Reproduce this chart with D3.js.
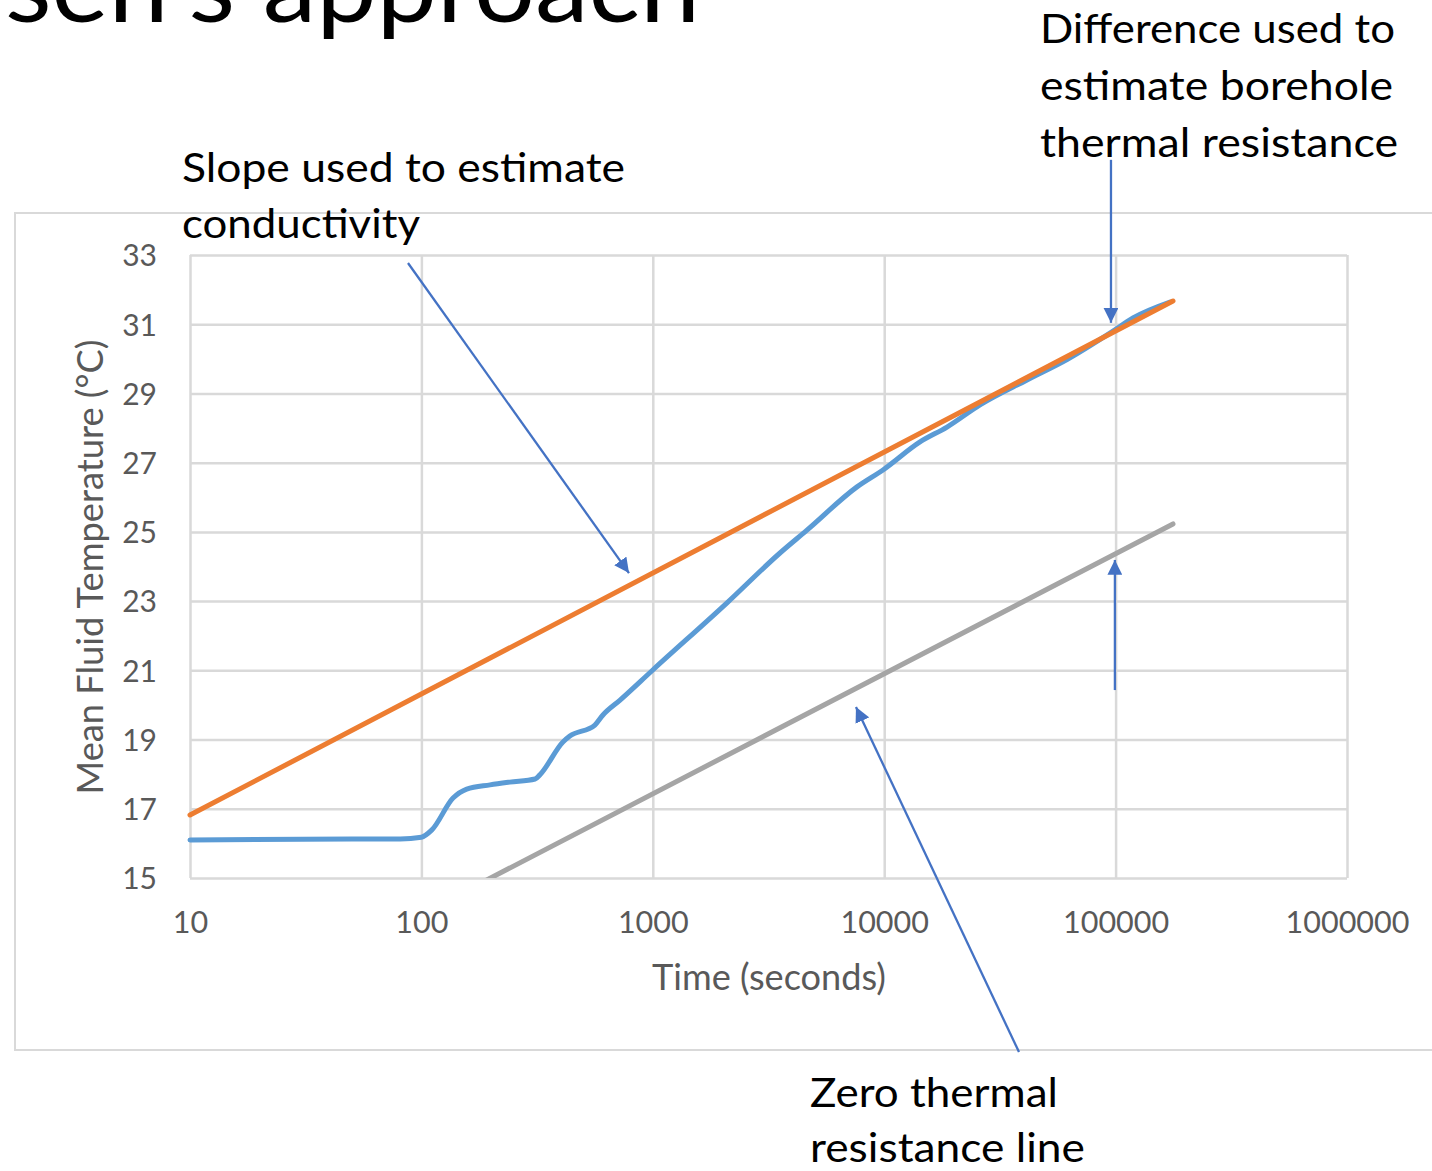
<!DOCTYPE html>
<html>
<head>
<meta charset="utf-8">
<script src="https://cdn.jsdelivr.net/npm/d3@7"></script>
<style>
  html, body { margin: 0; padding: 0; background: #ffffff; }
  svg { display: block; }
  text { font-family: Lato, "Open Sans", sans-serif; }
</style>
</head>
<body>
<svg id="chart" width="1432" height="1171"></svg>
<script>
// ---------------- data ----------------
const xTicks = [10, 100, 1000, 10000, 100000, 1000000];
const yTicks = [15, 17, 19, 21, 23, 25, 27, 29, 31, 33];

// Measured mean fluid temperature (blue)
const measuredTime = [10, 50, 81, 100, 111, 137, 157, 198, 241, 310, 325, 409, 438, 562, 609, 722, 1000, 2093, 3545, 4637, 7628, 9880, 14280, 18680, 25940, 41420, 61660, 97450, 118900, 171800];
const measuredTemp = [16.10, 16.13, 16.13, 16.18, 16.39, 17.31, 17.57, 17.69, 17.77, 17.86, 17.98, 18.93, 19.10, 19.42, 19.71, 20.14, 21.01, 22.95, 24.39, 25.05, 26.30, 26.79, 27.60, 28.03, 28.67, 29.39, 29.98, 30.80, 31.18, 31.64];

// Fitted slope line (orange)
const slopeTime = [10, 177000];
const slopeTemp = [16.82, 31.67];

// Zero thermal resistance line (grey)
const zeroTime = [190, 177000];
const zeroTemp = [14.93, 25.23];

// Annotation arrows, in data coordinates [time, temperature]
const arrowStarts = [[87.5, 32.77], [95500, 35.75], [99300, 20.43], [38240, 9.97]];
const arrowEnds   = [[789, 23.81], [95500, 31.04], [99300, 24.19], [7551, 19.94]];

const titleText = "sen's approach";
const noteSlope = ["Slope used to estimate", "conductivity"];
const noteDiff = ["Difference used to", "estimate borehole", "thermal resistance"];
const noteZero = ["Zero thermal", "resistance line"];
const xTitle = "Time (seconds)";
const yTitle = "Mean Fluid Temperature (°C)";

// ---------------- layout ----------------
const svg = d3.select("#chart");
const plot = { left: 190, right: 1347, top: 255, bottom: 878 };
const x = d3.scaleLog().domain([10, 1000000]).range([plot.left, plot.right]);
const y = d3.scaleLinear().domain([15, 33]).range([plot.bottom, plot.top]);

const gridColor = "#d9d9d9";
const labelColor = "#595959";

// Title (cut at the top, as in the slide)
svg.append("text")
  .attr("x", 5).attr("y", 22)
  .attr("font-size", 100)
  .attr("font-weight", 400)
  .attr("fill", "#000")
  .attr("textLength", 695)
  .attr("lengthAdjust", "spacingAndGlyphs")
  .text(titleText);

// Chart frame
svg.append("rect")
  .attr("x", 15).attr("y", 213)
  .attr("width", 1440).attr("height", 837)
  .attr("fill", "none")
  .attr("stroke", gridColor)
  .attr("stroke-width", 2);

// Gridlines
const gridY = svg.append("g")
  .attr("transform", `translate(${plot.left},0)`)
  .call(d3.axisLeft(y).tickValues(yTicks).tickSize(-(plot.right - plot.left)).tickFormat(""));
gridY.select(".domain").remove();
gridY.selectAll("line").attr("stroke", gridColor).attr("stroke-width", 2.5);

const gridX = svg.append("g")
  .attr("transform", `translate(0,${plot.bottom})`)
  .call(d3.axisBottom(x).tickValues(xTicks).tickSize(-(plot.bottom - plot.top)).tickFormat(""));
gridX.select(".domain").remove();
gridX.selectAll("line").attr("stroke", gridColor).attr("stroke-width", 2.5);

// Axis labels
const axY = svg.append("g")
  .attr("transform", `translate(${plot.left},0)`)
  .call(d3.axisLeft(y).tickValues(yTicks).tickSize(0).tickPadding(33).tickFormat(d3.format("d")));
axY.select(".domain").remove();
axY.selectAll("text")
  .attr("font-family", "Lato, sans-serif")
  .attr("font-size", 30)
  .attr("fill", labelColor)
  .attr("dy", "0.36em");

const axX = svg.append("g")
  .attr("transform", `translate(0,${plot.bottom})`)
  .call(d3.axisBottom(x).tickValues(xTicks).tickSize(0).tickPadding(0).tickFormat(d3.format("d")));
axX.select(".domain").remove();
axX.selectAll("text")
  .attr("font-family", "Lato, sans-serif")
  .attr("font-size", 30.5)
  .attr("fill", labelColor)
  .attr("dy", null)
  .attr("y", 55);

// Axis titles
svg.append("text")
  .attr("x", 769).attr("y", 990)
  .attr("text-anchor", "middle")
  .attr("font-size", 36)
  .attr("fill", labelColor)
  .attr("textLength", 234)
  .attr("lengthAdjust", "spacingAndGlyphs")
  .text(xTitle);

svg.append("text")
  .attr("transform", "translate(103,567) rotate(-90)")
  .attr("text-anchor", "middle")
  .attr("font-size", 36)
  .attr("fill", labelColor)
  .attr("textLength", 455)
  .attr("lengthAdjust", "spacingAndGlyphs")
  .text(yTitle);

// Clip path for series
svg.append("clipPath").attr("id", "plotclip")
  .append("rect")
  .attr("x", plot.left - 10).attr("y", plot.top - 10)
  .attr("width", plot.right - plot.left + 20)
  .attr("height", plot.bottom - plot.top + 10);

const line = d3.line().x(d => x(d[0])).y(d => y(d[1])).curve(d3.curveMonotoneX);
const series = [
  { t: measuredTime, v: measuredTemp, color: "#5B9BD5" },
  { t: slopeTime, v: slopeTemp, color: "#ED7D31" },
  { t: zeroTime, v: zeroTemp, color: "#A5A5A5" }
];
const gSeries = svg.append("g").attr("clip-path", "url(#plotclip)");
series.forEach(s => {
  gSeries.append("path")
    .datum(s.t.map((tt, i) => [tt, s.v[i]]))
    .attr("d", line)
    .attr("fill", "none")
    .attr("stroke", s.color)
    .attr("stroke-width", 5)
    .attr("stroke-linecap", "round")
    .attr("stroke-linejoin", "round");
});

// Arrows
const arrowColor = "#4472C4";
svg.append("defs").append("marker")
  .attr("id", "arrowhead")
  .attr("viewBox", "0 0 10 10")
  .attr("refX", 10).attr("refY", 5)
  .attr("markerWidth", 6.5).attr("markerHeight", 6.5)
  .attr("markerUnits", "strokeWidth")
  .attr("orient", "auto")
  .append("path")
  .attr("d", "M0,0 L10,5 L0,10 z")
  .attr("fill", arrowColor);

arrowStarts.forEach((s, i) => {
  const e = arrowEnds[i];
  svg.append("line")
    .attr("x1", x(s[0])).attr("y1", y(s[1]))
    .attr("x2", x(e[0])).attr("y2", y(e[1]))
    .attr("stroke", arrowColor)
    .attr("stroke-width", 2.3)
    .attr("marker-end", "url(#arrowhead)");
});

// Annotation texts
function note(lines, x0, y0, lh, widths) {
  lines.forEach((s, i) => {
    svg.append("text")
      .attr("x", x0).attr("y", y0 + i * lh)
      .attr("font-size", 40)
      .attr("fill", "#000")
      .attr("textLength", widths[i])
      .attr("lengthAdjust", "spacingAndGlyphs")
      .text(s);
  });
}
note(noteSlope, 182, 182, 56, [443, 238]);
note(noteDiff, 1040, 43, 57, [355, 353, 358]);
note(noteZero, 810, 1107, 55, [248, 275]);
</script>
</body>
</html>
